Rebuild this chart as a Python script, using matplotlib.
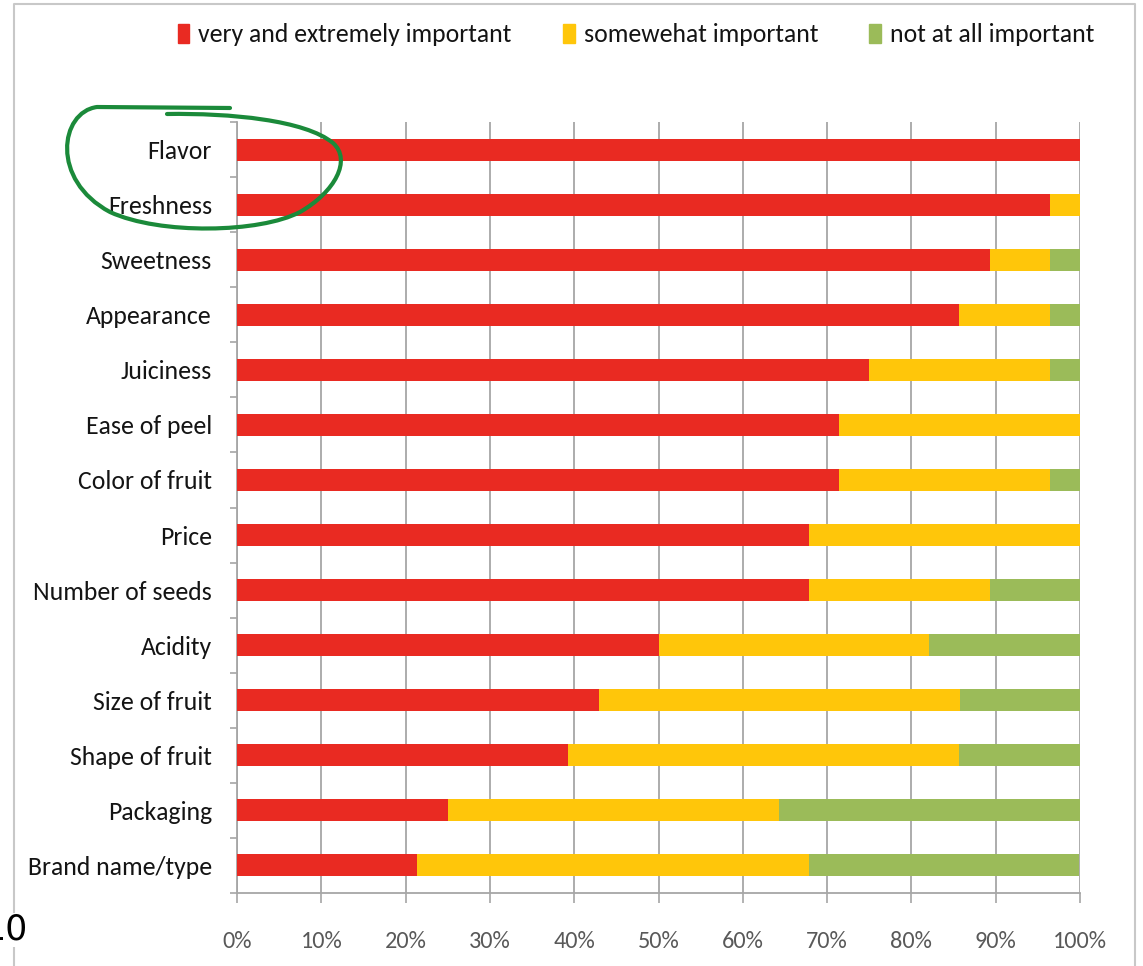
import matplotlib.pyplot as plt
import numpy as np
from matplotlib.patches import Patch, PathPatch
from matplotlib.path import Path
from matplotlib.lines import Line2D

# Survey: importance of fruit attributes (% of respondents)
attributes = ['Flavor', 'Freshness', 'Sweetness', 'Appearance', 'Juiciness',
              'Ease of peel', 'Color of fruit', 'Price', 'Number of seeds',
              'Acidity', 'Size of fruit', 'Shape of fruit', 'Packaging',
              'Brand name/type']
very_important = [100, 96.4, 89.3, 85.7, 75.0, 71.4, 71.4, 67.9, 67.9, 50.0, 42.9, 39.3, 25.0, 21.4]
somewhat_important = [0, 3.6, 7.1, 10.7, 21.4, 28.6, 25.0, 32.1, 21.4, 32.1, 42.9, 46.4, 39.3, 46.4]
not_important = [0, 0, 3.6, 3.6, 3.6, 0, 3.6, 0, 10.7, 17.9, 14.3, 14.3, 35.7, 32.1]
series_names = ['very and extremely important', 'somewehat important', 'not at all important']
x_ticks = [0, 10, 20, 30, 40, 50, 60, 70, 80, 90, 100]

colors = ['#E92A22', '#FFC60A', '#9BBB59']
grid_gray = '#A6A6A6'
font = ['Carlito', 'DejaVu Sans']

W, H = 1143, 966
fig = plt.figure(figsize=(W / 100, H / 100), dpi=100)
ax = fig.add_axes([237 / W, 1 - 893 / H, 843 / W, 771 / H])

y = np.arange(len(attributes))
left2 = np.array(very_important)
left3 = left2 + np.array(somewhat_important)
ax.barh(y, very_important, height=0.4, color=colors[0], zorder=3)
ax.barh(y, somewhat_important, left=left2, height=0.4, color=colors[1], zorder=3)
ax.barh(y, not_important, left=left3, height=0.4, color=colors[2], zorder=3)

ax.set_xlim(0, 100)
ax.set_ylim(len(attributes) - 0.5, -0.5)
ax.set_xticks(x_ticks)
ax.set_xticklabels([f'{t}%' for t in x_ticks], family=font, fontsize=17.5, color='#595959')
ax.set_yticks(y)
ax.set_yticklabels(attributes, family=font, fontsize=18.5, color='#141414')
ax.set_yticks(np.arange(-0.5, len(attributes)), minor=True)

ax.tick_params(axis='y', which='major', length=0, pad=18)
ax.tick_params(axis='y', which='minor', length=5, width=1.2, color=grid_gray, direction='out')
ax.tick_params(axis='x', length=7, width=1.2, color=grid_gray, direction='out', pad=20)

ax.grid(axis='x', color=grid_gray, linewidth=1.3, zorder=0)
for side in ['top', 'right']:
    ax.spines[side].set_visible(False)
for side in ['left', 'bottom']:
    ax.spines[side].set_color(grid_gray)
    ax.spines[side].set_linewidth(1.3)

# legend across the top
handles = [Patch(color=c) for c in colors]
fig.legend(handles, series_names, loc='center', bbox_to_anchor=(636 / W, 1 - 35 / H),
           ncol=3, frameon=False, prop={'family': font, 'size': 18.5},
           handlelength=0.45, handleheight=0.8, handletextpad=0.35,
           columnspacing=2.0, labelcolor='#141414')

# outer chart border
def px(xs, ys):
    return [x / W for x in xs], [1 - v / H for v in ys]

bx, by = px([14, 14, 1135, 1135], [H + 5, 4, 4, H + 5])
fig.add_artist(Line2D(bx, by, color='#C8C8C8', linewidth=1.5))

# stray page number at the lower left
fig.text(27 / W, 1 - 930 / H, '10', ha='right', va='center', fontsize=25,
         color='black', family='DejaVu Sans',
         bbox=dict(facecolor='white', edgecolor='none', pad=0))

# green freehand circle around the top two attributes
pts = [(230, 108), (97, 107),
       (60, 112), (50, 180), (110, 212),
       (160, 235), (260, 233), (300, 212),
       (335, 192), (352, 160), (333, 143),
       (305, 120), (230, 113), (167, 114)]
codes = [Path.MOVETO, Path.LINETO] + [Path.CURVE4] * 12
verts = [(px_ / W, 1 - py_ / H) for px_, py_ in pts]
circle = PathPatch(Path(verts, codes), facecolor='none', edgecolor='#1B8A3A',
                   linewidth=3, capstyle='round', joinstyle='round',
                   transform=fig.transFigure)
fig.add_artist(circle)

fig.savefig('out.png', dpi=100, facecolor='white')
